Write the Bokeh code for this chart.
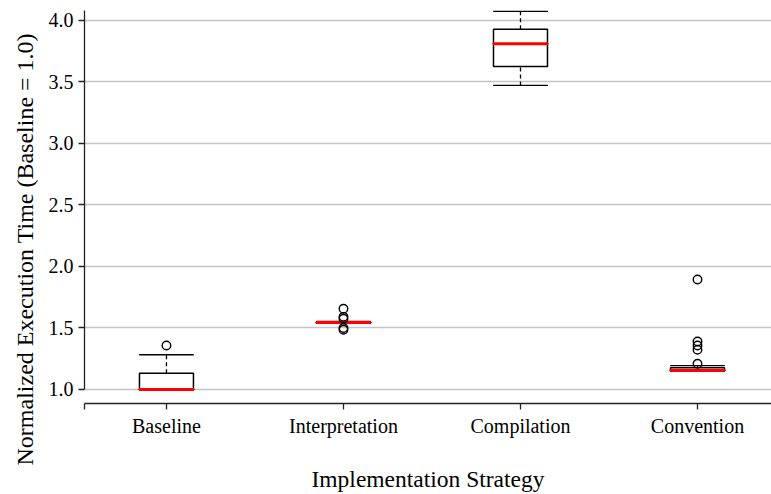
from bokeh.plotting import figure
from bokeh.models import FixedTicker, Title, ColumnDataSource, Range1d
from bokeh.embed import file_html
from bokeh.resources import INLINE

categories = ["Baseline", "Interpretation", "Compilation", "Convention"]
lower_whisker = [1.0, 1.538, 3.470, 1.148]
q1 = [1.0, 1.540, 3.624, 1.150]
median = [1.0, 1.544, 3.808, 1.154]
q3 = [1.132, 1.548, 3.927, 1.176]
upper_whisker = [1.282, 1.552, 4.073, 1.193]
outlier_cat = [0, 1, 1, 1, 1, 1, 3, 3, 3, 3, 3]
outlier_val = [1.357, 1.656, 1.59, 1.575, 1.50, 1.485, 1.894, 1.390, 1.357, 1.323, 1.209]
y_ticks = [1.0, 1.5, 2.0, 2.5, 3.0, 3.5, 4.0]

FONT = "Liberation Serif"
xs = list(range(len(categories)))
W = 0.305
X0, X1 = -0.463, 3.418

p = figure(width=771, height=494, output_backend="svg", toolbar_location=None,
           x_range=Range1d(X0, X1), y_range=Range1d(0.886, 4.079),
           min_border_left=84, min_border_right=0, min_border_top=10, min_border_bottom=91)
p.outline_line_color = None
p.xgrid.grid_line_color = None
p.ygrid.grid_line_color = "#c4c4c4"
p.ygrid.grid_line_width = 1.5
p.ygrid.ticker = FixedTicker(ticks=y_ticks)

src = ColumnDataSource(dict(x=xs, lw=lower_whisker, q1=q1, med=median, q3=q3, uw=upper_whisker))
# whiskers
p.segment(x0="x", y0="q3", x1="x", y1="uw", source=src, line_color="black", line_width=1.3, line_dash="4 3")
p.segment(x0="x", y0="lw", x1="x", y1="q1", source=src, line_color="black", line_width=1.3, line_dash="4 3")
# caps
p.rect(x="x", y="uw", width=W, height=0.0001, source=src, fill_color=None, line_color="black", line_width=1.3)
p.rect(x="x", y="lw", width=W, height=0.0001, source=src, fill_color=None, line_color="black", line_width=1.3)
# boxes
p.vbar(x="x", bottom="q1", top="q3", width=W, source=src, fill_color="white", line_color="black", line_width=1.5)
# medians
p.rect(x="x", y="med", width=W, height=0.0001, source=src, fill_color=None, line_color="#ff0000", line_width=3)
# outliers
p.scatter(x=outlier_cat, y=outlier_val, size=8.5, marker="circle", fill_color=None, line_color="black", line_width=1.4)

# axes
for ax in (p.xaxis[0], p.yaxis[0]):
    ax.axis_line_color = "#222222"
    ax.axis_line_width = 1.3
    ax.major_tick_line_color = "#222222"
    ax.major_tick_line_width = 1.3
    ax.major_tick_in = 0
    ax.major_tick_out = 6
    ax.minor_tick_line_color = None
    ax.major_label_text_font = FONT
    ax.major_label_text_font_size = "20px"
    ax.major_label_text_color = "black"
    ax.major_label_standoff = 5

p.yaxis.ticker = FixedTicker(ticks=y_ticks)
p.yaxis.major_label_overrides = {t: f"{t:.1f}" for t in y_ticks}
p.yaxis.bounds = (1.0, 4.079)

xt = [X0] + xs
p.xaxis.ticker = FixedTicker(ticks=xt)
ov = {X0: ""}
for i, c in enumerate(categories):
    ov[i] = c
p.xaxis.major_label_overrides = ov

p.xaxis.axis_label = "Implementation Strategy"
p.xaxis.axis_label_text_font = FONT
p.xaxis.axis_label_text_font_size = "23.5px"
p.xaxis.axis_label_text_font_style = "normal"
p.xaxis.axis_label_text_color = "black"
p.xaxis.axis_label_standoff = 26

ylab = Title(text="Normalized Execution Time (Baseline = 1.0)", align="left", offset=-62,
             vertical_align="bottom", standoff=15, text_font=FONT, text_font_size="24px",
             text_font_style="normal", text_color="black")
p.add_layout(ylab, "left")

open("out.html", "w").write(file_html(p, INLINE))
